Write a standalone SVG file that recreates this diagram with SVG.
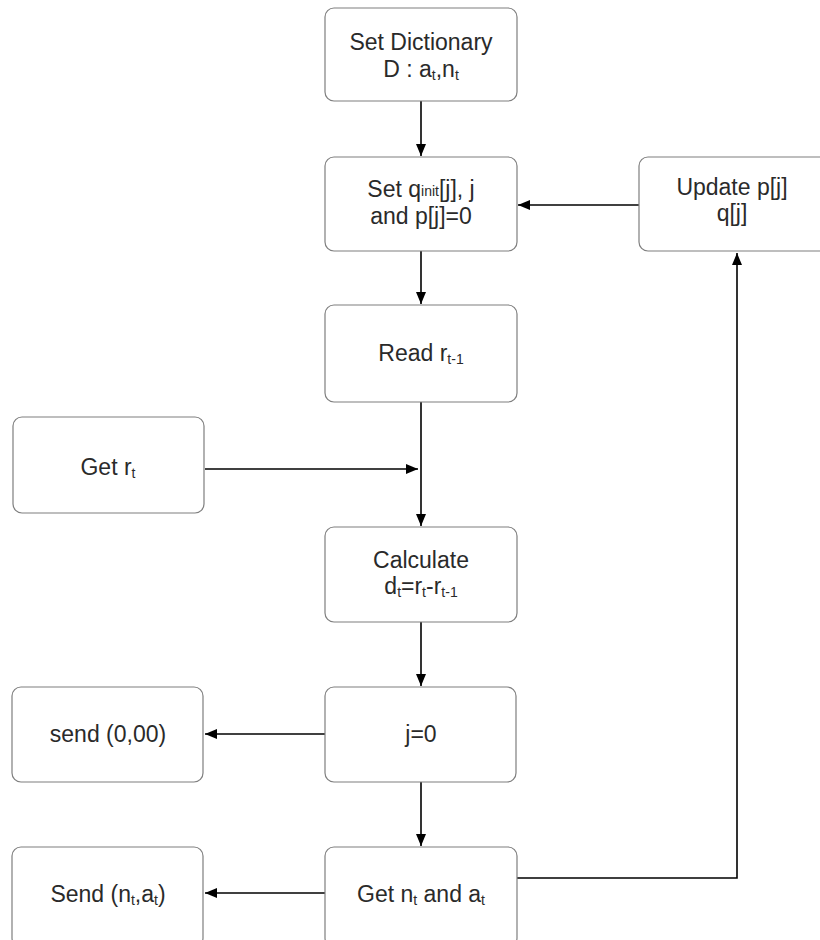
<svg xmlns="http://www.w3.org/2000/svg" width="820" height="940" viewBox="0 0 820 940">
  <style>
    .box { fill: #ffffff; stroke: #7f7f7f; stroke-width: 1.2; }
    .lbl { font-family: "Liberation Sans", "DejaVu Sans", sans-serif; font-size: 23px; fill: #2a2a2a; text-anchor: middle; }
    .sub { font-size: 14px; }
    .edge { fill: none; stroke: #000000; stroke-width: 1.6; marker-end: url(#arrow); }
  </style>
  <defs>
    <marker id="arrow" viewBox="0 0 12 10" refX="12" refY="5" markerWidth="12" markerHeight="10" markerUnits="userSpaceOnUse" orient="auto">
      <path d="M0,0 L12,5 L0,10 Z" fill="#000000"/>
    </marker>
  </defs>
  <rect width="820" height="940" fill="#ffffff"/>

  <g id="connectors">
    <path class="edge" d="M421,101 V156"/>
    <path class="edge" d="M421,251 V304"/>
    <path class="edge" d="M421,402 V526"/>
    <path class="edge" d="M205,469 H418"/>
    <path class="edge" d="M421,622 V686"/>
    <path class="edge" d="M421,782 V846"/>
    <path class="edge" d="M325,734 H205"/>
    <path class="edge" d="M325,893 H205"/>
    <path class="edge" d="M517,878 H737 V253"/>
    <path class="edge" d="M639,205 H518"/>
  </g>

  <g id="set-dictionary">
    <rect class="box" x="325" y="8" width="192" height="93" rx="9"/>
    <text class="lbl" x="421" y="50">Set Dictionary</text>
    <text class="lbl" x="421" y="77">D : a<tspan class="sub" dy="3">t</tspan><tspan dy="-3">,n</tspan><tspan class="sub" dy="3">t</tspan></text>
  </g>

  <g id="set-init">
    <rect class="box" x="325" y="157" width="192" height="94" rx="9"/>
    <text class="lbl" x="421" y="197">Set q<tspan class="sub" dy="-1">init</tspan><tspan dy="1">[j], j</tspan></text>
    <text class="lbl" x="421" y="224">and p[j]=0</text>
  </g>

  <g id="update">
    <rect class="box" x="639" y="157" width="192" height="94" rx="9"/>
    <text class="lbl" x="732" y="195">Update p[j]</text>
    <text class="lbl" x="732" y="221">q[j]</text>
  </g>

  <g id="read">
    <rect class="box" x="325" y="305" width="192" height="97" rx="9"/>
    <text class="lbl" x="421" y="361">Read r<tspan class="sub" dy="3">t-1</tspan></text>
  </g>

  <g id="get-rt">
    <rect class="box" x="13" y="417" width="191" height="96" rx="9"/>
    <text class="lbl" x="108" y="475">Get r<tspan class="sub" dy="3">t</tspan></text>
  </g>

  <g id="calculate">
    <rect class="box" x="325" y="527" width="192" height="95" rx="9"/>
    <text class="lbl" x="421" y="568">Calculate</text>
    <text class="lbl" x="421" y="594">d<tspan class="sub" dy="3">t</tspan><tspan dy="-3">=r</tspan><tspan class="sub" dy="3">t</tspan><tspan dy="-3">-r</tspan><tspan class="sub" dy="3">t-1</tspan></text>
  </g>

  <g id="j-zero">
    <rect class="box" x="325" y="687" width="191" height="95" rx="9"/>
    <text class="lbl" x="421" y="742">j=0</text>
  </g>

  <g id="send-zero">
    <rect class="box" x="12" y="687" width="191" height="95" rx="9"/>
    <text class="lbl" x="108" y="742">send (0,00)</text>
  </g>

  <g id="get-nt-at">
    <rect class="box" x="325" y="847" width="192" height="100" rx="9"/>
    <text class="lbl" x="421" y="902">Get n<tspan class="sub" dy="3">t</tspan><tspan dy="-3"> and a</tspan><tspan class="sub" dy="3">t</tspan></text>
  </g>

  <g id="send-nt-at">
    <rect class="box" x="12" y="847" width="191" height="100" rx="9"/>
    <text class="lbl" x="108" y="902">Send (n<tspan class="sub" dy="3">t</tspan><tspan dy="-3">,a</tspan><tspan class="sub" dy="3">t</tspan><tspan dy="-3">)</tspan></text>
  </g>
</svg>
